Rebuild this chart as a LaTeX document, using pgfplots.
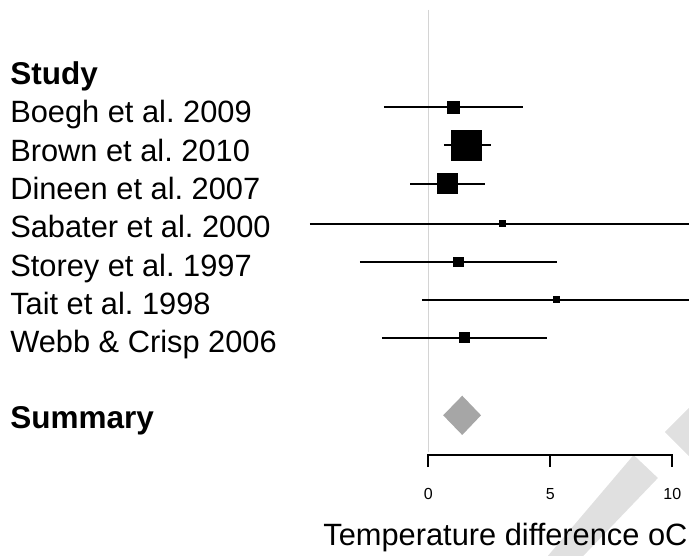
\documentclass[border=0pt]{standalone}
\usepackage{fontspec}
\setmainfont{Liberation Sans}
\usepackage{pgfplots}
\pgfplotsset{compat=1.18}
\definecolor{wm}{RGB}{224,224,224}
\definecolor{diam}{RGB}{166,166,166}
\definecolor{zero}{RGB}{212,212,212}
\frenchspacing
\begin{document}
\begin{tikzpicture}
\begin{axis}[scale only axis, width=689pt, height=556pt,
  xmin=-17.553, xmax=10.684, ymin=0, ymax=556, y dir=reverse, hide axis]
\path (rel axis cs:0,0) rectangle (rel axis cs:1,1);
% watermark
\fill[wm] (axis cs:4.758,560) -- (axis cs:8.414,455) -- (axis cs:9.41,478) -- (axis cs:6.19,560) -- cycle;
\fill[wm] (axis cs:9.70,432) -- (axis cs:11.13,397) -- (axis cs:11.13,467) -- cycle;
% zero line
\addplot[zero, line width=1.5pt] coordinates {(0,10) (0,452)};
% confidence intervals
\addplot[black, line width=1.8pt] coordinates {(-1.82,107.3) (3.88,107.3)};
\addplot[black, line width=1.8pt] coordinates {(0.64,145.3) (2.58,145.3)};
\addplot[black, line width=1.8pt] coordinates {(-0.75,183.7) (2.34,183.7)};
\addplot[black, line width=1.8pt] coordinates {(-4.85,223.7) (10.91,223.7)};
\addplot[black, line width=1.8pt] coordinates {(-2.80,262) (5.27,262)};
\addplot[black, line width=1.8pt] coordinates {(-0.26,300) (10.76,300)};
\addplot[black, line width=1.8pt] coordinates {(-1.90,338) (4.88,338)};
% point estimates
\addplot[only marks, mark=square*, mark size=5.85pt, black, mark options={line width=0pt}] coordinates {(1.02,107.3)};
\addplot[only marks, mark=square*, mark size=15pt, black, mark options={line width=0pt}] coordinates {(1.57,145.3)};
\addplot[only marks, mark=square*, mark size=9.85pt, black, mark options={line width=0pt}] coordinates {(0.78,183.7)};
\addplot[only marks, mark=square*, mark size=3pt, black, mark options={line width=0pt}] coordinates {(3.03,223.7)};
\addplot[only marks, mark=square*, mark size=4.9pt, black, mark options={line width=0pt}] coordinates {(1.23,262)};
\addplot[only marks, mark=square*, mark size=3pt, black, mark options={line width=0pt}] coordinates {(5.25,300)};
\addplot[only marks, mark=square*, mark size=5pt, black, mark options={line width=0pt}] coordinates {(1.48,338)};
% summary diamond
\addplot[fill=diam, draw=none] coordinates {(0.61,415.3) (1.39,395.7) (2.16,415.3) (1.39,435)} -- cycle;
% x scale
\draw[line width=1.8pt] (axis cs:0,467) -- (axis cs:0,455) -- (axis cs:10,455) -- (axis cs:10,467);
\draw[line width=1.8pt] (axis cs:5,455) -- (axis cs:5,467);
\node[font=\fontsize{16}{19}\selectfont, inner sep=0pt, anchor=base] at (axis cs:0,499.2) {0};
\node[font=\fontsize{16}{19}\selectfont, inner sep=0pt, anchor=base] at (axis cs:5,499.2) {5};
\node[font=\fontsize{16}{19}\selectfont, inner sep=0pt, anchor=base] at (axis cs:10,499.2) {10};
\node[font=\fontsize{30.8}{36}\selectfont, inner sep=0pt, anchor=base east] at (axis cs:10.63,545) {Temperature difference oC};
% study labels
\begin{scope}[every node/.style={font=\fontsize{30.8}{36}\selectfont, inner sep=0pt, anchor=base west}]
\node at (axis cs:-17.14,123) {Boegh et al. 2009};
\node at (axis cs:-17.14,161.3) {Brown et al. 2010};
\node at (axis cs:-17.14,199.6) {Dineen et al. 2007};
\node at (axis cs:-17.14,237.9) {Sabater et al. 2000};
\node at (axis cs:-17.14,276.2) {Storey et al. 1997};
\node at (axis cs:-17.14,314.5) {Tait et al. 1998};
\node at (axis cs:-17.14,352.8) {Webb \& Crisp 2006};
\end{scope}
\begin{scope}[every node/.style={font=\fontsize{31.5}{36}\selectfont\bfseries, inner sep=0pt, anchor=base west}]
\node at (axis cs:-17.14,84.4) {Study};
\node at (axis cs:-17.14,428.3) {Summary};
\end{scope}
\end{axis}
\end{tikzpicture}
\end{document}
